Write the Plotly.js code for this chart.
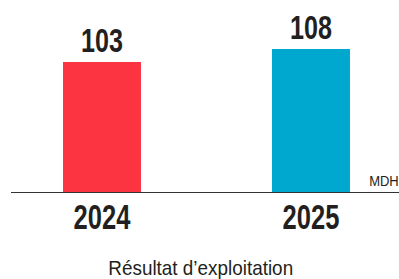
<!DOCTYPE html>
<html><head><meta charset="utf-8">
<script src="https://cdn.plot.ly/plotly-3.0.1.min.js"></script>
<style>html,body{margin:0;padding:0;background:#fff}#c{width:399px;height:279px}</style>
</head><body><div id="c"></div>
<script>
const categories = ['2024', '2025'];
const values = [103, 108];
const colors = ['#FC3340', '#00A8CF'];
const unitLabel = 'MDH';
const chartTitle = 'Résultat d’exploitation';

const FONT = '"Liberation Sans", Arial, sans-serif';
const dark = '#231F20';

Plotly.newPlot('c', [{
  type: 'bar',
  x: [0, 1],
  y: values,
  width: 0.373,
  marker: {color: colors, line: {width: 0}},
  text: values.map(String),
  textposition: 'outside',
  cliponaxis: false,
  textfont: {family: FONT, size: 34, color: dark, weight: 'bold'},
  hoverinfo: 'none'
}], {
  width: 399, height: 279,
  margin: {l: 11, r: 0, t: 0, b: 87},
  paper_bgcolor: '#fff', plot_bgcolor: '#fff',
  showlegend: false,
  xaxis: {
    range: [-0.4354, 1.4211],
    tickvals: [0, 1], ticktext: categories,
    tickfont: {family: FONT, size: 36, color: dark, weight: 'bold'},
    ticklabelstandoff: -7,
    showgrid: false, zeroline: false,
    showline: true, linecolor: '#333', linewidth: 1.3,
    ticks: '', fixedrange: true
  },
  yaxis: {
    range: [53, 126.8],
    visible: false, showgrid: false, zeroline: false, fixedrange: true
  },
  annotations: [
    {xref: 'paper', yref: 'paper', x: 355/388, y: 0, xanchor: 'left', yanchor: 'bottom',
     yshift: 1, text: unitLabel, showarrow: false,
     font: {family: FONT, size: 14, color: dark}},
    {xref: 'paper', yref: 'paper', x: (200 - 11) / 388, y: 0, xanchor: 'center', yanchor: 'top',
     yshift: -62, text: chartTitle, showarrow: false,
     font: {family: FONT, size: 21, color: dark}}
  ]
}, {staticPlot: true, displayModeBar: false}).then(function (gd) {
  // emulate the condensed typeface of the original by narrowing text horizontally
  gd.querySelectorAll('svg text').forEach(function (t) {
    const s = t.textContent;
    let k = 1;
    if (categories.indexOf(s) >= 0) k = 0.71;
    else if (values.map(String).indexOf(s) >= 0) k = 0.74;
    else if (s === chartTitle) k = 0.9;
    else if (s === unitLabel) k = 0.93;
    if (k === 1) return;
    const b = t.getBBox();
    const anchor = t.getAttribute('text-anchor') || getComputedStyle(t).textAnchor || 'middle';
    let ox = b.x + b.width / 2;
    if (anchor === 'start') ox = b.x;
    else if (anchor === 'end') ox = b.x + b.width;
    const prev = t.getAttribute('transform') || '';
    t.setAttribute('transform', prev + ' translate(' + ox + ',0) scale(' + k + ',1) translate(' + (-ox) + ',0)');
  });
});
</script>
</body></html>
